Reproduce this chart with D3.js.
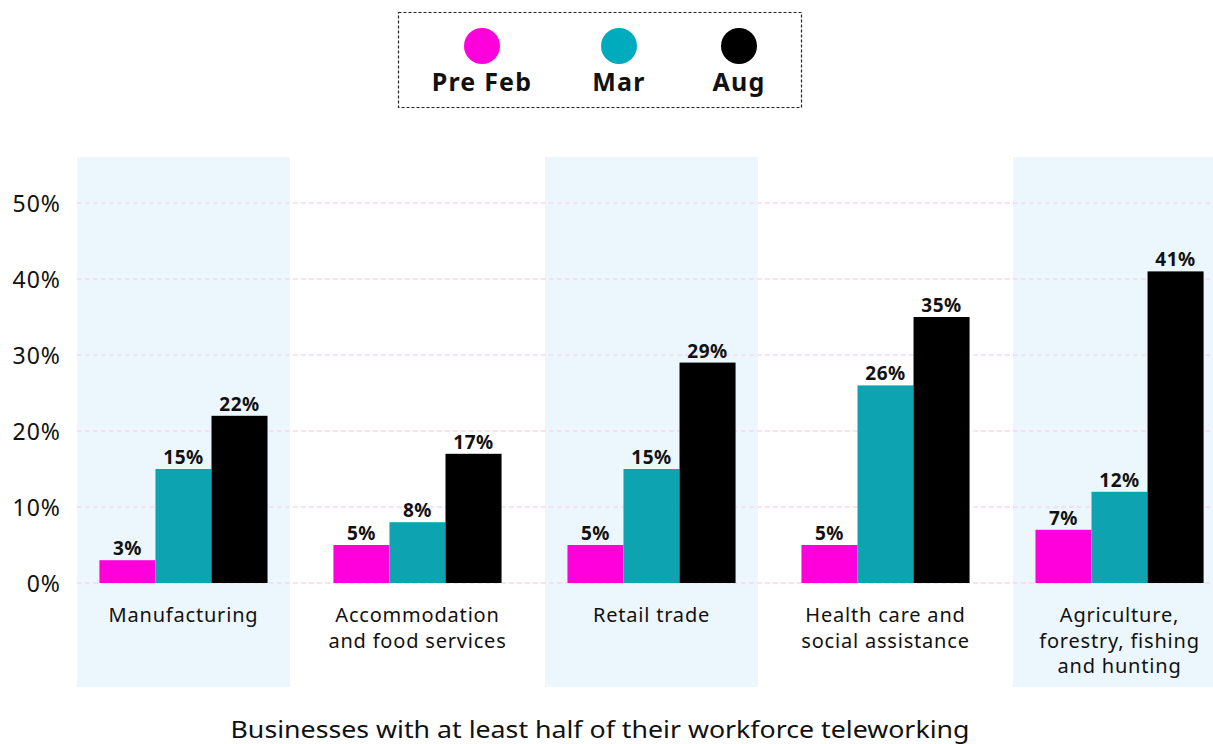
<!DOCTYPE html>
<html>
<head>
<meta charset="utf-8">
<script src="https://cdn.jsdelivr.net/npm/d3@7"></script>
<style>
  html, body { margin: 0; padding: 0; background: #fff; }
  svg { display: block; font-family: "Noto Sans", "Open Sans", sans-serif; }
</style>
</head>
<body>
<svg id="chart" width="1213" height="744"></svg>
<script>
// Share of businesses with at least half of their workforce teleworking, by industry
const categories = [
  ["Manufacturing"],
  ["Accommodation", "and food services"],
  ["Retail trade"],
  ["Health care and", "social assistance"],
  ["Agriculture,", "forestry, fishing", "and hunting"]
];
const seriesNames = ["Pre Feb", "Mar", "Aug"];
const preFeb = [3, 5, 5, 5, 7];
const mar = [15, 8, 15, 26, 12];
const aug = [22, 17, 29, 35, 41];
const yTicks = [0, 10, 20, 30, 40, 50];

const series = [preFeb, mar, aug];
const barColors = ["#ff00dd", "#0ea3b1", "#000000"];
const legendColors = ["#ff00dd", "#00abbd", "#000000"];

const svg = d3.select("#chart");
const keys = categories.map(c => c.join(" "));

const x = d3.scaleBand().domain(keys).range([77, 1226]).paddingInner(0.09).paddingOuter(0);
const y = d3.scaleLinear().domain([0, 50]).range([583, 203]);
const xs = d3.scaleBand().domain(seriesNames)
  .range([0, x.bandwidth()]).paddingOuter(0.4).paddingInner(0);

// Alternating shaded panels
svg.append("g").selectAll("rect")
  .data(keys.filter((d, i) => i % 2 === 0))
  .join("rect")
  .attr("x", d => x(d)).attr("y", 157)
  .attr("width", x.bandwidth()).attr("height", 530)
  .attr("fill", "#ecf7fd");

// Dashed gridlines
svg.append("g").selectAll("line")
  .data(yTicks)
  .join("line")
  .attr("x1", 77).attr("x2", 1213)
  .attr("y1", d => y(d)).attr("y2", d => y(d))
  .attr("stroke", "#fbd6f2").attr("stroke-width", 1.5)
  .attr("stroke-dasharray", "5,3");

// Y axis labels
const yAxis = d3.axisLeft(y).tickValues(yTicks).tickFormat(d => d + "%").tickSize(0).tickPadding(0);
const yg = svg.append("g").attr("transform", "translate(61,0)").call(yAxis);
yg.select(".domain").remove();
yg.selectAll("text")
  .attr("font-size", 23).attr("fill", "#111").attr("dy", "0.36em")
  .attr("letter-spacing", 1)
  .style("font-family", "'Noto Sans', 'Open Sans', sans-serif");

// Bars
const groups = svg.append("g").selectAll("g")
  .data(keys)
  .join("g")
  .attr("transform", d => `translate(${x(d)},0)`);

groups.each(function(k, ci) {
  const g = d3.select(this);
  seriesNames.forEach((s, si) => {
    const v = series[si][ci];
    g.append("rect")
      .attr("x", xs(s)).attr("y", y(v))
      .attr("width", xs.bandwidth()).attr("height", y(0) - y(v))
      .attr("fill", barColors[si]);
    g.append("text")
      .attr("x", xs(s) + xs.bandwidth() / 2).attr("y", y(v) - 5)
      .attr("text-anchor", "middle")
      .attr("font-size", 19).attr("font-weight", 700).attr("fill", "#111")
      .attr("letter-spacing", 0.5)
      .text(v + "%");
  });
  // Category label
  const t = g.append("text")
    .attr("text-anchor", "middle")
    .attr("font-size", 20).attr("letter-spacing", 0.8).attr("fill", "#111");
  categories[ci].forEach((line, li) => {
    t.append("tspan")
      .attr("x", x.bandwidth() / 2)
      .attr("y", 622 + li * 25.5)
      .text(line);
  });
});

// Legend
const legend = svg.append("g");
legend.append("rect")
  .attr("x", 398.5).attr("y", 12.5).attr("width", 403).attr("height", 95)
  .attr("fill", "none").attr("stroke", "#222").attr("stroke-width", 1.2)
  .attr("stroke-dasharray", "3,2");
const legendX = [482, 619, 739];
seriesNames.forEach((s, i) => {
  legend.append("circle")
    .attr("cx", legendX[i]).attr("cy", 46).attr("r", 18)
    .attr("fill", legendColors[i]);
  legend.append("text")
    .attr("x", legendX[i]).attr("y", 91)
    .attr("text-anchor", "middle")
    .attr("font-size", 25).attr("font-weight", 700).attr("letter-spacing", 1.2)
    .attr("fill", "#111")
    .text(s);
});

// Axis title
svg.append("text")
  .attr("x", 600).attr("y", 738)
  .attr("text-anchor", "middle")
  .attr("font-size", 24).attr("fill", "#111")
  .attr("textLength", 739).attr("lengthAdjust", "spacingAndGlyphs")
  .text("Businesses with at least half of their workforce teleworking");
</script>
</body>
</html>
